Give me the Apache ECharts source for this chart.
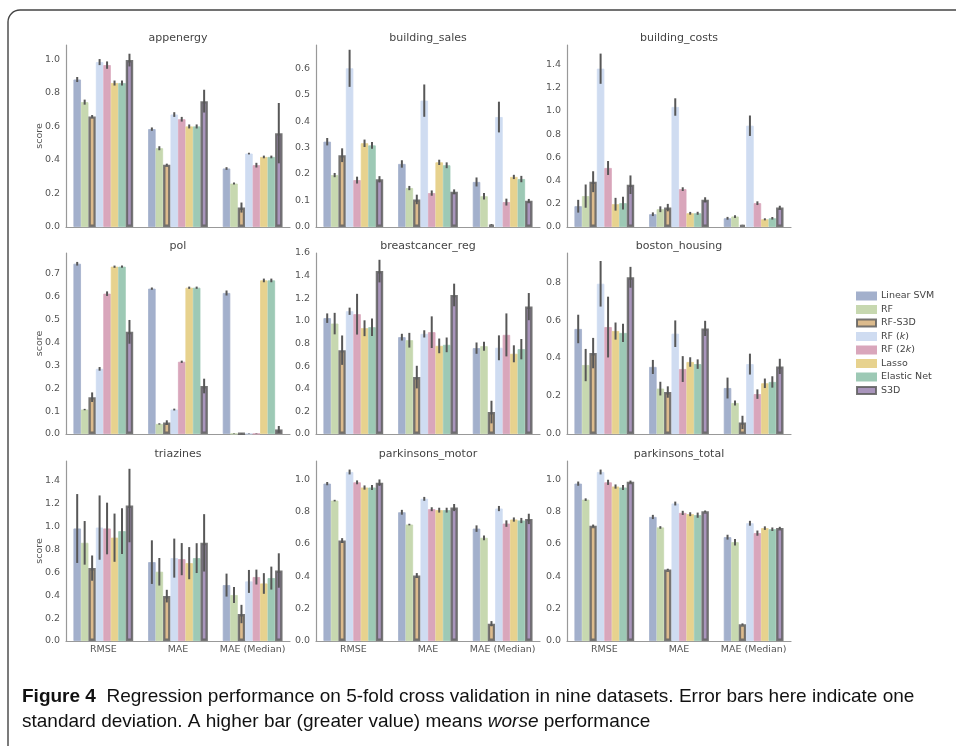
<!DOCTYPE html>
<html>
<head>
<meta charset="utf-8">
<script src="https://cdn.jsdelivr.net/npm/echarts@6/dist/echarts.min.js"></script>
<style>
html,body{margin:0;padding:0;background:#fff;}
#chart{width:956px;height:746px;}
</style>
</head>
<body>
<div id="chart"></div>
<script>
// ---------------- data ----------------
const categories = ['RMSE', 'MAE', 'MAE (Median)'];
const methods = ['Linear SVM', 'RF', 'RF-S3D', 'RF (k)', 'RF (2k)', 'Lasso', 'Elastic Net', 'S3D'];
const datasets = ['appenergy', 'building_sales', 'building_costs', 'pol', 'breastcancer_reg', 'boston_housing', 'triazines', 'parkinsons_motor', 'parkinsons_total'];
const yTickLabels = [
  ['0.0','0.2','0.4','0.6','0.8','1.0'],
  ['0.0','0.1','0.2','0.3','0.4','0.5','0.6'],
  ['0.0','0.2','0.4','0.6','0.8','1.0','1.2','1.4'],
  ['0.0','0.1','0.2','0.3','0.4','0.5','0.6','0.7'],
  ['0.0','0.2','0.4','0.6','0.8','1.0','1.2','1.4','1.6'],
  ['0.0','0.2','0.4','0.6','0.8'],
  ['0.0','0.2','0.4','0.6','0.8','1.0','1.2','1.4'],
  ['0.0','0.2','0.4','0.6','0.8','1.0'],
  ['0.0','0.2','0.4','0.6','0.8','1.0']
];
const yMax = [1.086, 0.687, 1.567, 0.792, 1.6, 0.953, 1.568, 1.113, 1.113];
const yInterval = [0.2, 0.1, 0.2, 0.1, 0.2, 0.2, 0.2, 0.2, 0.2];

// each row: one metric (RMSE, MAE, MAE (Median)); columns follow `methods`
const appenergyScore = [
  [0.880, 0.745, 0.660, 0.984, 0.966, 0.859, 0.859, 0.996],
  [0.584, 0.470, 0.372, 0.671, 0.643, 0.600, 0.600, 0.751],
  [0.349, 0.259, 0.116, 0.438, 0.369, 0.418, 0.418, 0.560]
];
const appenergyErr = [
  [0.015, 0.015, 0.008, 0.018, 0.022, 0.015, 0.015, 0.038],
  [0.010, 0.012, 0.006, 0.014, 0.014, 0.012, 0.012, 0.068],
  [0.008, 0.006, 0.030, 0.005, 0.014, 0.008, 0.008, 0.180]
];
const buildingSalesScore = [
  [0.322, 0.196, 0.271, 0.599, 0.177, 0.316, 0.308, 0.180],
  [0.238, 0.147, 0.104, 0.477, 0.128, 0.244, 0.233, 0.133],
  [0.170, 0.116, 0.009, 0.415, 0.094, 0.189, 0.181, 0.099]
];
const buildingSalesErr = [
  [0.014, 0.008, 0.026, 0.070, 0.013, 0.014, 0.013, 0.012],
  [0.014, 0.008, 0.018, 0.061, 0.010, 0.010, 0.011, 0.009],
  [0.017, 0.012, 0.002, 0.058, 0.013, 0.008, 0.012, 0.007]
];
const buildingCostsScore = [
  [0.179, 0.266, 0.390, 1.363, 0.508, 0.196, 0.205, 0.364],
  [0.110, 0.153, 0.167, 1.033, 0.326, 0.118, 0.118, 0.234],
  [0.075, 0.090, 0.020, 0.872, 0.205, 0.066, 0.075, 0.167]
];
const buildingCostsErr = [
  [0.055, 0.100, 0.090, 0.130, 0.060, 0.055, 0.055, 0.080],
  [0.016, 0.025, 0.032, 0.075, 0.016, 0.012, 0.013, 0.022],
  [0.012, 0.012, 0.001, 0.088, 0.016, 0.009, 0.011, 0.016]
];
const polScore = [
  [0.745, 0.107, 0.161, 0.285, 0.614, 0.732, 0.732, 0.447],
  [0.636, 0.044, 0.050, 0.107, 0.316, 0.640, 0.640, 0.210],
  [0.617, 0.001, 0.002, 0.001, 0.001, 0.672, 0.672, 0.020]
];
const polErr = [
  [0.008, 0.003, 0.021, 0.008, 0.010, 0.005, 0.005, 0.052],
  [0.005, 0.003, 0.010, 0.004, 0.005, 0.005, 0.005, 0.032],
  [0.011, 0.001, 0.001, 0.001, 0.001, 0.008, 0.008, 0.015]
];
const breastcancerScore = [
  [1.024, 0.976, 0.741, 1.085, 1.059, 0.935, 0.944, 1.440],
  [0.856, 0.829, 0.503, 0.885, 0.900, 0.779, 0.788, 1.229],
  [0.759, 0.776, 0.194, 0.762, 0.876, 0.709, 0.750, 1.126]
];
const breastcancerErr = [
  [0.042, 0.095, 0.130, 0.032, 0.180, 0.070, 0.078, 0.100],
  [0.030, 0.065, 0.100, 0.032, 0.140, 0.065, 0.065, 0.100],
  [0.050, 0.040, 0.100, 0.110, 0.190, 0.075, 0.090, 0.120]
];
const bostonScore = [
  [0.553, 0.363, 0.426, 0.791, 0.563, 0.542, 0.532, 0.825],
  [0.353, 0.239, 0.221, 0.528, 0.342, 0.379, 0.368, 0.556],
  [0.242, 0.163, 0.061, 0.368, 0.210, 0.267, 0.274, 0.356]
];
const bostonErr = [
  [0.075, 0.085, 0.080, 0.120, 0.160, 0.045, 0.048, 0.055],
  [0.037, 0.036, 0.030, 0.070, 0.068, 0.025, 0.025, 0.040],
  [0.055, 0.013, 0.035, 0.055, 0.025, 0.025, 0.030, 0.040]
];
const triazinesScore = [
  [0.980, 0.855, 0.635, 0.988, 0.980, 0.900, 0.957, 1.180],
  [0.687, 0.603, 0.391, 0.722, 0.713, 0.678, 0.722, 0.855],
  [0.487, 0.400, 0.235, 0.519, 0.557, 0.501, 0.548, 0.614]
];
const triazinesErr = [
  [0.300, 0.190, 0.110, 0.280, 0.225, 0.210, 0.200, 0.320],
  [0.190, 0.120, 0.055, 0.170, 0.140, 0.140, 0.130, 0.250],
  [0.100, 0.070, 0.080, 0.100, 0.065, 0.090, 0.100, 0.150]
];
const parkMotorScore = [
  [0.973, 0.868, 0.621, 1.045, 0.981, 0.949, 0.949, 0.979],
  [0.796, 0.720, 0.405, 0.879, 0.815, 0.809, 0.809, 0.825],
  [0.695, 0.638, 0.107, 0.819, 0.726, 0.751, 0.745, 0.755]
];
const parkMotorErr = [
  [0.010, 0.005, 0.015, 0.015, 0.012, 0.013, 0.015, 0.020],
  [0.015, 0.005, 0.015, 0.012, 0.012, 0.015, 0.015, 0.022],
  [0.020, 0.015, 0.016, 0.016, 0.020, 0.013, 0.016, 0.032]
];
const parkTotalScore = [
  [0.973, 0.874, 0.712, 1.045, 0.981, 0.955, 0.949, 0.984],
  [0.767, 0.702, 0.442, 0.850, 0.792, 0.784, 0.778, 0.802],
  [0.642, 0.611, 0.103, 0.728, 0.667, 0.698, 0.691, 0.698]
];
const parkTotalErr = [
  [0.013, 0.008, 0.008, 0.015, 0.016, 0.013, 0.015, 0.008],
  [0.013, 0.008, 0.005, 0.012, 0.013, 0.012, 0.016, 0.005],
  [0.015, 0.020, 0.006, 0.015, 0.016, 0.011, 0.011, 0.008]
];

const allScores = [appenergyScore, buildingSalesScore, buildingCostsScore, polScore, breastcancerScore, bostonScore, triazinesScore, parkMotorScore, parkTotalScore];
const allErrs = [appenergyErr, buildingSalesErr, buildingCostsErr, polErr, breastcancerErr, bostonErr, triazinesErr, parkMotorErr, parkTotalErr];

// ---------------- style ----------------
const colors = ['#a3b0cc', '#c7d8b0', '#dcbb8d', '#cfdcf1', '#d9a6bb', '#e7d28e', '#9dc9b5', '#a995bc'];
const edged = [false, false, true, false, false, false, false, true];
const colLeft = [66, 316, 567];
const rowTop = [45, 253, 461];
const rowH = [182, 181, 180];
const gridW = 224;
const FONT = 'DejaVu Sans';

const grids = [], xAxes = [], yAxes = [], series = [], graphics = [];
datasets.forEach((name, g) => {
  const r = Math.floor(g / 3), c = g % 3;
  grids.push({left: colLeft[c], top: rowTop[r], width: gridW, height: rowH[r], containLabel: false});
  xAxes.push({
    type: 'category', gridIndex: g, data: categories,
    axisLine: {lineStyle: {color: '#999', width: 1.2}},
    axisTick: {show: false},
    axisLabel: {show: r === 2, interval: 0, color: '#555', fontFamily: FONT, fontSize: 9.5, margin: 4}
  });
  const ticks = yTickLabels[g].map(Number);
  yAxes.push({
    type: 'value', gridIndex: g, min: 0, max: yMax[g], interval: yInterval[g],
    name: c === 0 ? 'score' : '', nameLocation: 'middle', nameGap: 21, nameRotate: 90,
    nameMoveOverlap: false,
    nameTextStyle: {color: '#555', fontFamily: FONT, fontSize: 9.5},
    axisLine: {show: true, lineStyle: {color: '#999', width: 1.2}},
    axisTick: {show: false},
    splitLine: {show: false},
    axisLabel: {
      color: '#555', fontFamily: FONT, fontSize: 9.5, margin: 6,
      formatter: v => {
        const i = ticks.findIndex(t => Math.abs(t - v) < 1e-6);
        return i >= 0 ? yTickLabels[g][i] : '';
      }
    }
  });
  methods.forEach((m, k) => {
    series.push({
      type: 'bar', name: m, xAxisIndex: g, yAxisIndex: g,
      barWidth: '10%', barGap: '0%', barCategoryGap: '20%',
      data: allScores[g].map(row => row[k]),
      itemStyle: edged[k]
        ? {color: colors[k], borderColor: 'rgba(95,95,95,0.85)', borderWidth: 2.4}
        : {color: colors[k], borderColor: colors[k], borderWidth: 0.8},
      emphasis: {disabled: true},
      silent: true, z: 2 + k * 0.01
    });
  });
  const ebData = [];
  allScores[g].forEach((row, ci) => row.forEach((v, k) => ebData.push([ci, k, v, allErrs[g][ci][k]])));
  series.push({
    type: 'custom', xAxisIndex: g, yAxisIndex: g, silent: true, z: 5,
    encode: {x: 0, y: 2},
    data: ebData,
    renderItem: (params, api) => {
      const ci = api.value(0), k = api.value(1), v = api.value(2), e = api.value(3);
      const catW = api.size([1, 0])[0];
      const cx = api.coord([ci, 0])[0] + (-0.4 + (k + 0.5) * 0.1) * catW;
      const y1 = api.coord([ci, v + e])[1];
      const y2 = api.coord([ci, Math.max(0, v - e)])[1];
      return {type: 'line', shape: {x1: cx, y1: y1, x2: cx, y2: y2},
        style: {stroke: '#575757', lineWidth: 2}};
    }
  });
  graphics.push({
    type: 'text', x: colLeft[c] + gridW / 2, y: rowTop[r] - 7,
    style: {text: name, align: 'center', verticalAlign: 'middle', fill: '#444', font: '11px "DejaVu Sans"'}
  });
});

// frame
graphics.push({
  type: 'rect', shape: {x: 8, y: 10, width: 980, height: 780, r: 12},
  style: {fill: 'none', stroke: '#444', lineWidth: 1.4}, z: -1
});
// caption
graphics.push({
  type: 'text', x: 22, y: 697,
  style: {
    text: '{b|Figure 4}  Regression performance on 5-fold cross validation in nine datasets. Error bars here indicate one',
    verticalAlign: 'middle', fill: '#111',
    font: '19px "Liberation Sans", sans-serif',
    rich: {b: {fontWeight: 'bold', fontSize: 19, fontFamily: '"Liberation Sans"', fill: '#111'}}
  }
});
graphics.push({
  type: 'text', x: 22, y: 722,
  style: {
    text: 'standard deviation. A higher bar (greater value) means {i|worse} performance',
    verticalAlign: 'middle', fill: '#111',
    font: '19px "Liberation Sans", sans-serif',
    rich: {i: {fontStyle: 'italic', fontSize: 19, fontFamily: '"Liberation Sans"', fill: '#111'}}
  }
});

const chart = echarts.init(document.getElementById('chart'), null, {renderer: 'canvas'});
chart.setOption({
  animation: false,
  backgroundColor: '#fff',
  grid: grids, xAxis: xAxes, yAxis: yAxes, series: series,
  legend: {
    orient: 'vertical', left: 851, top: 285,
    data: methods, icon: 'rect', itemWidth: 19, itemHeight: 7, itemGap: 1.5,
    selectedMode: false,
    textStyle: {color: '#444', fontFamily: FONT, fontSize: 9.5, lineHeight: 12,
      rich: {i: {fontStyle: 'italic', fontFamily: FONT, fontSize: 9.5, color: '#444'}}},
    formatter: n => n === 'RF (k)' ? 'RF ({i|k})' : (n === 'RF (2k)' ? 'RF (2{i|k})' : n)
  },
  graphic: graphics
});
</script>
</body>
</html>
